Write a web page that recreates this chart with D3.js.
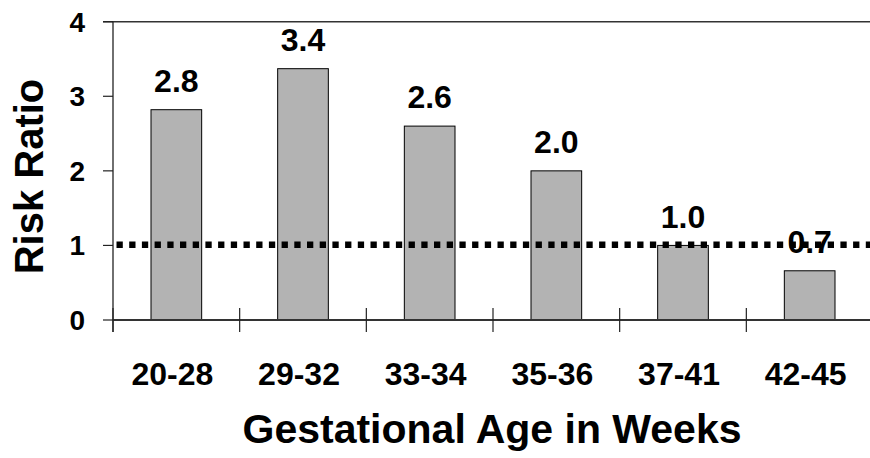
<!DOCTYPE html>
<html>
<head>
<meta charset="utf-8">
<script src="https://cdn.jsdelivr.net/npm/d3@7"></script>
<style>
  html, body { margin: 0; padding: 0; background: #fff; overflow: hidden; }
  text { font-family: "Liberation Sans", Arial, sans-serif; font-weight: bold; fill: #000; }
</style>
</head>
<body>
<script>
// ---- data ----
const categories = ["20-28", "29-32", "33-34", "35-36", "37-41", "42-45"];
const riskRatios = [2.82, 3.37, 2.6, 2.0, 1.0, 0.66];
const yTicks = [0, 1, 2, 3, 4];
const referenceValue = 1;
const xTitle = "Gestational Age in Weeks";
const yTitle = "Risk Ratio";

// ---- layout ----
const W = 870, H = 458;
const svg = d3.select("body").append("svg").attr("width", W).attr("height", H);

const x = d3.scaleBand().domain(categories).range([113, 873])
  .paddingInner(0.6).paddingOuter(0.3);
const y = d3.scaleLinear().domain([0, 4]).range([320, 21.7]);
const step = x.step();
const boundaries = d3.range(categories.length + 1).map(i => 113 + i * step);

// frame top line
svg.append("line").attr("x1", 103).attr("x2", 873).attr("y1", y(4)).attr("y2", y(4))
  .attr("stroke", "#333").attr("stroke-width", 1.5);

// y axis
const yAxis = svg.append("g");
yAxis.append("line").attr("x1", 113).attr("x2", 113).attr("y1", y(4)).attr("y2", 332)
  .attr("stroke", "#222").attr("stroke-width", 1.3);
yAxis.selectAll("line.tk").data(yTicks).join("line").attr("class", "tk")
  .attr("x1", 103).attr("x2", 113).attr("y1", d => y(d)).attr("y2", d => y(d))
  .attr("stroke", "#222").attr("stroke-width", 1.2);
yAxis.selectAll("text").data(yTicks).join("text")
  .attr("x", 85).attr("y", d => y(d) + 10).attr("text-anchor", "end")
  .attr("font-size", 28).text(d => d);

// bars
svg.selectAll("rect.bar").data(riskRatios).join("rect").attr("class", "bar")
  .attr("x", (d, i) => x(categories[i]))
  .attr("width", x.bandwidth())
  .attr("y", d => y(d))
  .attr("height", d => y(0) - y(d))
  .attr("fill", "#b3b3b3").attr("stroke", "#000").attr("stroke-width", 1);

// x axis
svg.append("line").attr("x1", 113).attr("x2", 873).attr("y1", y(0)).attr("y2", y(0))
  .attr("stroke", "#333").attr("stroke-width", 2);
svg.selectAll("line.xtk").data(boundaries).join("line").attr("class", "xtk")
  .attr("x1", d => d).attr("x2", d => d).attr("y1", 308).attr("y2", 332)
  .attr("stroke", "#222").attr("stroke-width", 1.2);

// reference dotted line
svg.append("line").attr("x1", 116.5).attr("x2", 873)
  .attr("y1", y(referenceValue) - 0.8).attr("y2", y(referenceValue) - 0.8)
  .attr("stroke", "#000").attr("stroke-width", 6.5).attr("stroke-dasharray", "6.3 6.4");

// value labels
const fmt = d3.format(".1f");
svg.selectAll("text.val").data(riskRatios).join("text").attr("class", "val")
  .attr("x", (d, i) => x(categories[i]) + x.bandwidth() / 2)
  .attr("y", d => y(d) - 17.7)
  .attr("text-anchor", "middle").attr("font-size", 32).text(d => fmt(d));

// x tick labels
svg.selectAll("text.cat").data(categories).join("text").attr("class", "cat")
  .attr("x", d => x(d) + x.bandwidth() / 2 - 4)
  .attr("y", 385)
  .attr("text-anchor", "middle").attr("font-size", 32).text(d => d);

// axis titles
svg.append("text").attr("x", 492).attr("y", 443).attr("text-anchor", "middle")
  .attr("font-size", 41).text(xTitle);
svg.append("text").attr("transform", "translate(43,176.5) rotate(-90)")
  .attr("text-anchor", "middle").attr("font-size", 40).text(yTitle);
</script>
</body>
</html>
